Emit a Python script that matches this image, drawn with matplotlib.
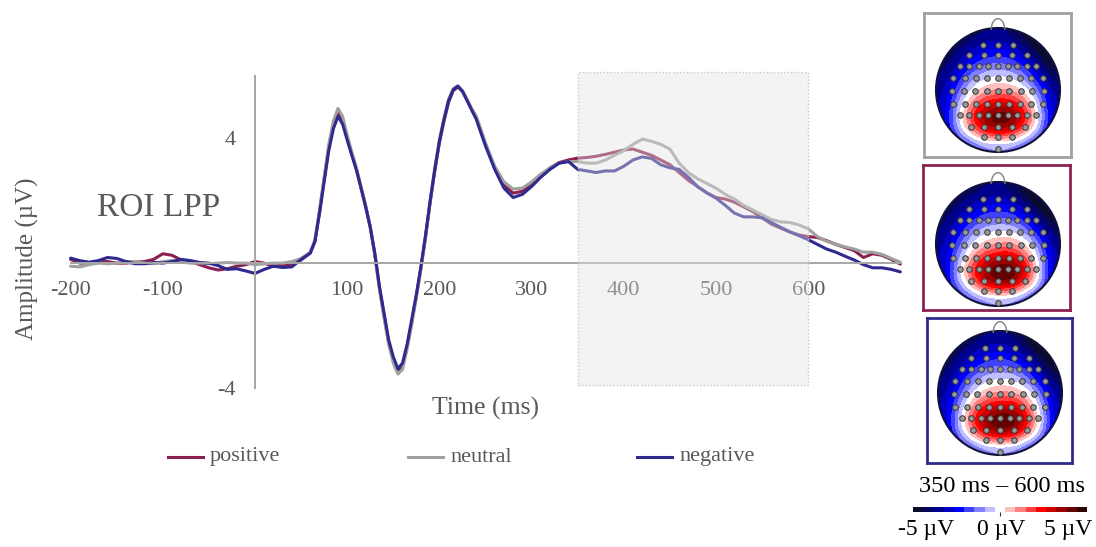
import numpy as np
import matplotlib.pyplot as plt
from matplotlib.colors import LinearSegmentedColormap, Normalize
from matplotlib.patches import Rectangle, Circle, Arc
from matplotlib.lines import Line2D
import matplotlib.cm as cm

plt.rcParams['font.family'] = ['Liberation Serif', 'DejaVu Serif']
plt.rcParams['axes.unicode_minus'] = False

W, H = 1096, 547

# sample times in ms (finer around the early peaks)
t_pre = np.arange(-200, 60, 10)
t_early = np.arange(60, 240, 5)
t_late = np.arange(240, 710, 10)
times = np.concatenate([t_pre, t_early, t_late])

# ROI LPP amplitudes (µV)
positive = [0.12, 0.0, 0.0, 0.05, 0.05, 0.0, 0.0, 0.03, 0.05, 0.12, 0.3, 0.25, 0.1,
            0.05, -0.05, -0.15, -0.22, -0.18, -0.1, -0.05, 0.05, 0.0, -0.1, -0.05, -0.05, 0.1,
            0.33, 0.7, 1.65, 2.7, 3.7, 4.45, 4.85, 4.6, 4.0, 3.5, 3.0, 2.42, 1.82, 1.15, 0.28,
            -0.8, -1.7, -2.55, -3.1, -3.45, -3.3, -2.65, -1.9, -1.05, -0.15, 0.85, 1.95, 2.95,
            3.85, 4.55, 5.15, 5.52, 5.64, 5.5, 5.22, 4.92,
            4.65, 3.8, 3.05, 2.5, 2.24, 2.3, 2.5, 2.8, 3.05, 3.22, 3.3, 3.36, 3.38, 3.42, 3.48,
            3.55, 3.62, 3.65, 3.55, 3.45, 3.3, 3.15, 2.9, 2.65, 2.45, 2.25, 2.1, 2.05, 1.95, 1.8,
            1.65, 1.45, 1.25, 1.12, 1.0, 0.9, 0.85, 0.82, 0.72, 0.6, 0.5, 0.4, 0.18, 0.3, 0.25,
            0.12, -0.03]
neutral = [-0.1, -0.12, -0.05, 0.0, -0.02, 0.0, 0.05, 0.05, 0.0, -0.02, 0.05, 0.08, 0.03,
           0.0, 0.0, -0.02, 0.0, 0.02, 0.0, 0.0, -0.05, -0.02, 0.0, 0.0, 0.05, 0.15,
           0.35, 0.75, 1.7, 2.75, 3.8, 4.55, 4.95, 4.7, 4.1, 3.55, 3.05, 2.45, 1.85, 1.15, 0.25,
           -0.85, -1.75, -2.6, -3.2, -3.55, -3.4, -2.75, -1.95, -1.1, -0.2, 0.85, 2.0, 3.05,
           3.95, 4.65, 5.25, 5.58, 5.68, 5.52, 5.25, 4.95,
           4.7, 3.85, 3.1, 2.6, 2.37, 2.4, 2.6, 2.85, 3.05, 3.2, 3.25, 3.25, 3.2, 3.2, 3.3,
           3.45, 3.6, 3.8, 3.97, 3.9, 3.8, 3.65, 3.2, 2.9, 2.7, 2.55, 2.4, 2.2, 2.05, 1.85,
           1.7, 1.55, 1.4, 1.32, 1.3, 1.22, 1.1, 0.85, 0.7, 0.6, 0.52, 0.45, 0.35, 0.35, 0.28,
           0.15, 0.03]
negative = [0.16, 0.08, 0.03, 0.08, 0.18, 0.15, 0.05, -0.02, -0.02, 0.02, 0.0, 0.05, 0.12,
            0.08, 0.02, 0.0, -0.08, -0.2, -0.18, -0.25, -0.33, -0.2, -0.1, -0.14, -0.12, 0.12,
            0.32, 0.7, 1.6, 2.6, 3.6, 4.3, 4.7, 4.45, 3.94, 3.45, 2.98, 2.4, 1.8, 1.15, 0.3,
            -0.75, -1.6, -2.46, -3.0, -3.38, -3.2, -2.6, -1.8, -1.0, -0.1, 0.9, 2.0, 3.0,
            3.9, 4.6, 5.2, 5.55, 5.66, 5.5, 5.2, 4.9,
            4.6, 3.75, 3.0, 2.4, 2.1, 2.2, 2.45, 2.75, 3.0, 3.2, 3.25, 3.0, 2.95, 2.9, 2.95,
            2.95, 3.1, 3.3, 3.4, 3.35, 3.15, 3.05, 3.0, 2.75, 2.45, 2.25, 2.08, 1.85, 1.6, 1.48,
            1.48, 1.45, 1.3, 1.15, 1.0, 0.88, 0.75, 0.6, 0.45, 0.35, 0.22, 0.1, -0.05, -0.15, -0.15,
            -0.2, -0.28]

conditions = ['positive', 'neutral', 'negative']
colors = ['#8b1f4f', '#a0a0a0', '#2e2a8f']
series = [positive, neutral, negative]

x_ticks = [-200, -100, 100, 200, 300, 400, 500, 600]
y_ticks = [-4, 4]
window = (350, 600)

# scalp maps, 350-600 ms (µV on a 9x9 grid, top row = frontal)
topo_neutral = [
    [-5, -4.8, -4.2, -3.8, -3.6, -4, -4.8, -5.8, -6.5],
    [-4.6, -4, -3.3, -2.8, -2.6, -2.9, -3.6, -4.8, -6],
    [-4.2, -3.4, -2.4, -1.7, -1.5, -1.7, -2.5, -3.8, -5],
    [-3.8, -2.6, -1.2, -0.4, -0.2, -0.4, -1.2, -2.8, -4.2],
    [-3.5, -1.8, -0.2, 0.6, 0.9, 0.8, 0.1, -1.5, -3.6],
    [-3.3, -1.0, 1.0, 2.4, 2.9, 2.8, 1.4, -0.6, -3.3],
    [-3.3, -0.6, 2.0, 4.0, 4.8, 4.6, 2.6, -0.2, -3.2],
    [-3.4, -1.0, 0.8, 2.6, 3.2, 2.8, 1.0, -0.8, -3.3],
    [-3.8, -2.8, -1.8, -1.2, -1.0, -1.2, -1.8, -2.8, -3.8],
]
topo_positive = [
    [-5, -4.8, -4.2, -3.9, -3.7, -4.1, -4.9, -5.8, -6.5],
    [-4.6, -4, -3.4, -2.9, -2.7, -3.0, -3.8, -4.9, -6],
    [-4.2, -3.4, -2.5, -1.8, -1.6, -1.7, -2.6, -3.8, -5],
    [-3.8, -2.7, -1.3, -0.5, -0.3, -0.3, -1.1, -2.7, -4.2],
    [-3.5, -1.9, -0.3, 0.5, 0.9, 1.0, 0.3, -1.3, -3.6],
    [-3.3, -1.2, 0.8, 2.3, 3.0, 3.1, 1.7, -0.4, -3.3],
    [-3.3, -0.8, 1.8, 4.0, 5.0, 5.2, 3.0, 0.0, -3.2],
    [-3.4, -1.2, 0.6, 2.6, 3.4, 3.2, 1.3, -0.6, -3.3],
    [-3.8, -2.8, -1.8, -1.2, -1.0, -1.1, -1.7, -2.8, -3.8],
]
topo_negative = [
    [-5, -4.8, -4.2, -3.8, -3.6, -4, -4.8, -5.8, -6.5],
    [-4.6, -4, -3.3, -2.8, -2.6, -2.9, -3.7, -4.8, -6],
    [-4.2, -3.4, -2.4, -1.7, -1.5, -1.6, -2.5, -3.8, -5],
    [-3.8, -2.6, -1.2, -0.4, -0.2, -0.3, -1.2, -2.8, -4.2],
    [-3.5, -1.8, -0.2, 0.6, 1.0, 0.9, 0.2, -1.4, -3.6],
    [-3.3, -1.0, 1.1, 2.5, 3.0, 3.0, 1.5, -0.6, -3.3],
    [-3.3, -0.6, 2.1, 4.2, 5.0, 4.9, 2.8, -0.2, -3.2],
    [-3.4, -1.0, 0.9, 2.8, 3.4, 3.0, 1.1, -0.8, -3.3],
    [-3.8, -2.8, -1.8, -1.2, -1.0, -1.2, -1.8, -2.8, -3.8],
]
topo_maps = [topo_neutral, topo_positive, topo_negative]
topo_colors = ['#a0a0a0', '#8b2252', '#2e2a8f']

# electrode rows: (y, half width, count)
montage_rows = [(0.73, 0.24, 3), (0.57, 0.46, 5), (0.38, 0.62, 9), (0.19, 0.72, 9),
                (-0.02, 0.74, 9), (-0.22, 0.72, 9), (-0.41, 0.62, 9), (-0.59, 0.44, 5),
                (-0.76, 0.22, 3), (-0.95, 0.0, 1)]
elec_x, elec_y = [], []
for ry, hw, n in montage_rows:
    xs = np.linspace(-hw, hw, n) if n > 1 else [0.0]
    elec_x += list(xs)
    elec_y += [ry] * n

fig = plt.figure(figsize=(W / 100, H / 100), dpi=100)

# --- ERP panel ---
ax = fig.add_axes([66 / W, 147 / H, 839 / W, 340 / H])
for vals, col in zip(series, colors):
    ax.plot(times, vals, color=col, lw=2.2, solid_capstyle='round', zorder=2)
ax.set_xlim(-205, 705)
ax.set_ylim(-4.38, 6.5)

for s in ['top', 'right']:
    ax.spines[s].set_visible(False)
ax.spines['left'].set_position(('data', 0))
ax.spines['bottom'].set_position(('data', 0))
ax.spines['left'].set_bounds(-4, 6)
ax.spines['bottom'].set_bounds(-200, 700)
for s in ['left', 'bottom']:
    ax.spines[s].set_color('#a6a6a6')
    ax.spines[s].set_linewidth(1.4)
ax.set_xticks(x_ticks)
ax.set_yticks(y_ticks)
ax.tick_params(length=0, labelsize=16, labelcolor='#595959')
ax.tick_params(axis='x', pad=13)
ax.tick_params(axis='y', pad=14)
ax.set_axisbelow(True)
ax.patch.set_visible(False)

# analysis window shading
ax.add_patch(Rectangle((window[0], -3.9), window[1] - window[0], 10.0,
                       facecolor=(0.89, 0.89, 0.89, 0.4), edgecolor='#c8c8c8',
                       linestyle=(0, (1, 1.5)), lw=1, zorder=3))

ax.text(-105, 1.76, 'ROI LPP', fontsize=24, color='#595959', ha='center', va='center')
fig.text(27 / W, 1 - 259 / H, 'Amplitude (µV)', rotation=90, fontsize=18,
         color='#595959', ha='center', va='center')
fig.text(486 / W, 1 - 408 / H, 'Time (ms)', fontsize=18.5, color='#595959',
         ha='center', va='center')

# legend
leg_y = 1 - 457 / H
for x0, name, col in zip([168, 408, 637], conditions, colors):
    fig.add_artist(Line2D([x0 / W, (x0 + 35) / W], [leg_y, leg_y], color=col, lw=2.2))
    fig.text((x0 + 42) / W, leg_y, name, fontsize=16, color='#595959', va='center')

# --- scalp maps ---
base = LinearSegmentedColormap.from_list(
    'topo', ['#0a0a2e', '#00008f', '#0000ff', '#8080ff', '#ffffff',
             '#ff8080', '#ff0000', '#9a0000', '#2e0505'])
cmap = base.resampled(17)

frames = [(924, 13, 147, 144), (923, 165, 147, 145), (927, 318, 145, 145)]
centers = [(998, 90), (998, 244), (1000, 393)]
r_px = 62
for grid, col, (fx, fy, fw, fh), (cx, cy) in zip(topo_maps, topo_colors, frames, centers):
    tax = fig.add_axes([fx / W, 1 - (fy + fh) / H, fw / W, fh / H])
    im = tax.imshow(np.array(grid), extent=(-1, 1, -1, 1), cmap=cmap, vmin=-5, vmax=5,
                    interpolation='bicubic', interpolation_stage='data', zorder=1)
    im.set_clip_path(Circle((0, 0), 1, transform=tax.transData))
    tax.add_patch(Circle((0, 0), 1, fill=False, ec='#10103a', lw=1.5, zorder=2))
    tax.add_patch(Arc((0, 0.97), 0.22, 0.36, theta1=0, theta2=180, color='#808080',
                      lw=1.0, zorder=2))
    tax.plot(elec_x, elec_y, 'o', ms=4, mfc='#9a9a9a', mec='#333333', mew=0.7, zorder=3)
    tax.set_xlim((fx - cx) / r_px, (fx + fw - cx) / r_px)
    tax.set_ylim(-(fy + fh - cy) / r_px, (cy - fy) / r_px)
    tax.set_xticks([])
    tax.set_yticks([])
    for s in tax.spines.values():
        s.set_color(col)
        s.set_linewidth(2)

# colorbar
cax = fig.add_axes([913 / W, 1 - 512 / H, 174 / W, 5 / H])
sm = cm.ScalarMappable(norm=Normalize(-5, 5), cmap=cmap)
cb = fig.colorbar(sm, cax=cax, orientation='horizontal')
cb.outline.set_visible(False)
cb.set_ticks([0])
cb.ax.tick_params(length=3, width=0.8, color='#333333', labelbottom=False)

fig.text(1002 / W, 1 - 487 / H, '350 ms – 600 ms', fontsize=17.5, ha='center', va='center')
for xc, lab in zip([926, 1001, 1068], ['-5 µV', '0 µV', '5 µV']):
    fig.text(xc / W, 1 - 530 / H, lab, fontsize=17, ha='center', va='center')

fig.savefig('out.png', dpi=100)
